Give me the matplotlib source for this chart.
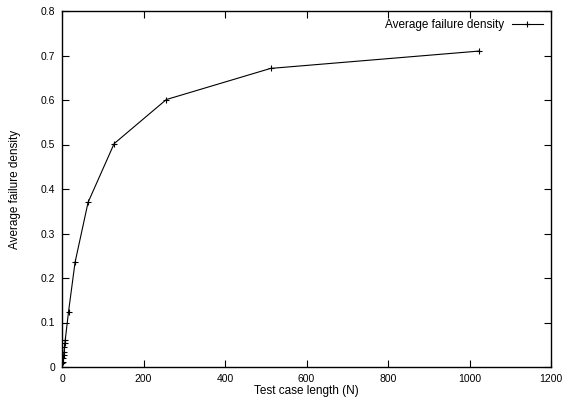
import matplotlib
matplotlib.use("Agg")
import matplotlib.pyplot as plt

plt.rcParams['font.family'] = ['Liberation Sans', 'DejaVu Sans']

test_case_length = [1, 2, 3, 4, 5, 6, 7, 8, 16, 32, 64, 128, 256, 512, 1024]
avg_failure_density = [0.009, 0.011, 0.020, 0.027, 0.034, 0.045, 0.054, 0.061,
                       0.124, 0.235, 0.370, 0.502, 0.601, 0.671, 0.710]
x_ticks = [0, 200, 400, 600, 800, 1000, 1200]
y_ticks = [0, 0.1, 0.2, 0.3, 0.4, 0.5, 0.6, 0.7, 0.8]

fig = plt.figure(figsize=(5.65, 4.01), dpi=100)
ax = fig.add_axes([62/565, 34/401, (551-62)/565, (367-11)/401])
ax.plot(test_case_length, avg_failure_density, color='black', lw=0.8,
        marker='+', markersize=5, markeredgewidth=0.8, label='Average failure density')
ax.set_xlim(0, 1200)
ax.set_ylim(0, 0.8)
ax.set_xticks(x_ticks)
ax.set_yticks(y_ticks)
ax.set_xticklabels([str(t) for t in x_ticks])
ax.set_yticklabels(['0' if t == 0 else f'{t:.1f}' for t in y_ticks])
ax.tick_params(direction='in', top=True, right=True, length=5, width=0.8, labelsize=7.5, pad=5)
for s in ax.spines.values():
    s.set_linewidth(1.0)
ax.set_xlabel('Test case length (N)', fontsize=8.5, labelpad=1)
ax.set_ylabel('Average failure density', fontsize=8.5, labelpad=14)
leg = ax.legend(loc='upper right', fontsize=8.5, frameon=False, markerfirst=False,
                handlelength=2.6, borderaxespad=0.3, handletextpad=0.7)
fig.savefig('out.png', dpi=100)
